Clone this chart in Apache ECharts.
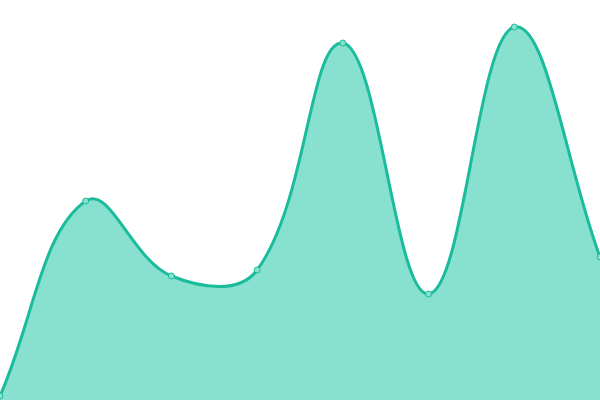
<!DOCTYPE html>
<html><head><meta charset="utf-8">
<script src="https://cdn.jsdelivr.net/npm/echarts@6/dist/echarts.min.js"></script>
<style>html,body{margin:0;padding:0;background:#fff}#c{width:600px;height:400px}</style>
</head><body><div id="c"></div>
<script>
const categories = ['1','2','3','4','5','6','7','8'];
const values = [1, 49.75, 31, 32.5, 89.25, 26.5, 93.25, 35.75];
const lineColor = '#1abc9c';
const areaColor = '#88e0cf';
const tension = 0.4;

function controlPoints(pts, rect) {
  const n = pts.length, cps = [];
  for (let i = 0; i < n; i++) {
    const cur = pts[i];
    const prev = i > 0 ? pts[i - 1] : cur;
    const next = i < n - 1 ? pts[i + 1] : cur;
    const d01 = Math.hypot(cur[0] - prev[0], cur[1] - prev[1]);
    const d12 = Math.hypot(next[0] - cur[0], next[1] - cur[1]);
    let s01 = d01 / (d01 + d12), s12 = d12 / (d01 + d12);
    if (isNaN(s01)) s01 = 0; if (isNaN(s12)) s12 = 0;
    const fa = tension * s01, fb = tension * s12;
    const cap = (x, y) => [Math.min(Math.max(x, rect.x), rect.x + rect.width), Math.min(Math.max(y, rect.y), rect.y + rect.height)];
    cps.push({
      p: cap(cur[0] - fa * (next[0] - prev[0]), cur[1] - fa * (next[1] - prev[1])),
      n: cap(cur[0] + fb * (next[0] - prev[0]), cur[1] + fb * (next[1] - prev[1]))
    });
  }
  return cps;
}

const chart = echarts.init(document.getElementById('c'));
chart.setOption({
  animation: false,
  grid: {left: 0, right: 0, top: 0, bottom: 0},
  xAxis: {type: 'category', data: categories, boundaryGap: false, show: false},
  yAxis: {type: 'value', min: 0, max: 100, show: false},
  series: [{
    type: 'custom',
    clip: false,
    data: values.map((v, i) => [i, v]),
    renderItem: function (params, api) {
      const children = [];
      if (params.dataIndex === 0) {
        const pts = values.map((v, i) => api.coord([i, v]));
        const rect = params.coordSys;
        const cps = controlPoints(pts, rect);
        let d = 'M' + pts[0][0] + ',' + pts[0][1];
        for (let i = 0; i < pts.length - 1; i++) {
          d += ' C' + cps[i].n[0] + ',' + cps[i].n[1] + ' ' + cps[i + 1].p[0] + ',' + cps[i + 1].p[1] + ' ' + pts[i + 1][0] + ',' + pts[i + 1][1];
        }
        const base = api.coord([0, 0])[1];
        const area = d + ' L' + pts[pts.length - 1][0] + ',' + base + ' L' + pts[0][0] + ',' + base + ' Z';
        children.push({type: 'path', shape: {pathData: area}, style: {fill: areaColor, stroke: null}});
        children.push({type: 'path', shape: {pathData: d}, style: {fill: null, stroke: lineColor, lineWidth: 3}});
      }
      const p = api.coord([api.value(0), api.value(1)]);
      children.push({type: 'circle', shape: {cx: p[0], cy: p[1], r: 3}, style: {fill: areaColor, stroke: lineColor, lineWidth: 1}});
      return {type: 'group', children: children};
    }
  }]
});
</script></body></html>
